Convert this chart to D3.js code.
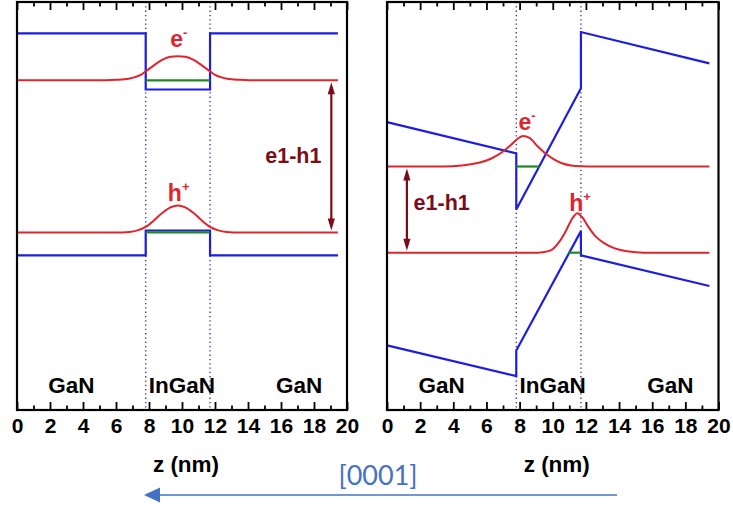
<!DOCTYPE html>
<html>
<head>
<meta charset="utf-8">
<script src="https://cdn.jsdelivr.net/npm/d3@7"></script>
<style>
  html, body { margin: 0; padding: 0; background: #ffffff; }
  svg { display: block; }
</style>
</head>
<body>
<svg id="chart" width="733" height="507"></svg>
<script>
// Band-edge profiles of a GaN / InGaN / GaN quantum well along z (nm).
// Energies in eV, measured from the GaN valence-band edge of the flat-band case.

const zMajorTicks = [0, 2, 4, 6, 8, 10, 12, 14, 16, 18, 20];
const zMinorTicks = [1, 3, 5, 7, 9, 11, 13, 15, 17, 19];
const wellEdges = [7.8, 11.7];
const regionNames = ["GaN", "InGaN", "GaN"];
const regionCenters = [3.3, 10.0, 17.1];

// Flat-band well (no polarization field)
const cbFlat = [[0, 3.40], [7.8, 3.40], [7.8, 2.54], [11.7, 2.54], [11.7, 3.40], [19.45, 3.40]];
const vbFlat = [[0, 0.00], [7.8, 0.00], [7.8, 0.38], [11.7, 0.38], [11.7, 0.00], [19.45, 0.00]];
const e1Flat = 2.68;
const h1Flat = 0.35;
const eLevelFlat = [[7.8, 2.68], [11.7, 2.68]];
const hLevelFlat = [[7.8, 0.35], [11.7, 0.35]];
// wavefunction profiles: [z, height above the level in eV]
const ePsiFlat = [[0, 0], [5.0, 0], [6.0, 0.008], [6.5, 0.015], [7.0, 0.038], [7.5, 0.084], [7.8, 0.138],
  [8.3, 0.230], [8.8, 0.314], [9.3, 0.360], [9.75, 0.368], [10.2, 0.360], [10.7, 0.314], [11.2, 0.230],
  [11.7, 0.138], [12.0, 0.084], [12.5, 0.038], [13.0, 0.015], [13.5, 0.008], [14.5, 0], [19.45, 0]];
const hPsiFlat = [[0, 0], [6.0, 0], [6.8, 0.008], [7.3, 0.031], [7.8, 0.084], [8.3, 0.184], [8.8, 0.299],
  [9.3, 0.383], [9.75, 0.414], [10.2, 0.383], [10.7, 0.299], [11.2, 0.184], [11.7, 0.084], [12.2, 0.031],
  [12.7, 0.008], [13.5, 0], [19.45, 0]];

// Polarized well (built-in field along [0001])
const cbPol = [[0, 2.04], [7.8, 1.56], [7.8, 0.70], [11.7, 2.56], [11.7, 3.42], [19.45, 2.94]];
const vbPol = [[0, -1.38], [7.8, -1.85], [7.8, -1.46], [11.7, 0.37], [11.7, 0.00], [19.45, -0.47]];
const e1Pol = 1.36;
const h1Pol = 0.04;
const eLevelPol = [[7.8, 1.36], [9.18, 1.36]];
const hLevelPol = [[10.96, 0.04], [11.7, 0.04]];
const ePsiPol = [[0, 0], [3.5, 0], [4.5, 0.015], [5.6, 0.061], [6.3, 0.123], [7.0, 0.230], [7.5, 0.337],
  [7.9, 0.429], [8.2, 0.467], [8.6, 0.437], [9.1, 0.306], [9.6, 0.191], [10.1, 0.107], [10.6, 0.046],
  [11.1, 0.015], [11.7, 0.003], [12.5, 0], [19.45, 0]];
const hPsiPol = [[0, 0], [8.8, 0], [9.4, 0.008], [9.9, 0.038], [10.4, 0.169], [10.8, 0.337], [11.1, 0.490],
  [11.48, 0.605], [11.8, 0.536], [12.1, 0.414], [12.6, 0.245], [13.1, 0.146], [13.7, 0.069], [14.3, 0.028],
  [15.0, 0.008], [16.0, 0], [19.45, 0]];

const COL = {
  band: "#1d1de0",
  psi: "#e0242c",
  level: "#1f8a1f",
  gap: "#7a0d18",
  edge: "#2a2aa0",
  dir: "#4472c4",
  ink: "#000000"
};

const svg = d3.select("#chart");
const y = d3.scaleLinear().domain([-2.37, 3.88]).range([410, 2]);

const panels = [
  {
    range: [17, 347],
    cb: cbFlat, vb: vbFlat, e1: e1Flat, h1: h1Flat,
    eLevel: eLevelFlat, hLevel: hLevelFlat, ePsi: ePsiFlat, hPsi: hPsiFlat,
    eLabel: [9.8, 3.19], hLabel: [9.8, 0.83],
    gapArrowZ: 19.05, gapLabel: [16.75, 1.41]
  },
  {
    range: [387, 718.5],
    cb: cbPol, vb: vbPol, e1: e1Pol, h1: h1Pol,
    eLevel: eLevelPol, hLevel: hLevelPol, ePsi: ePsiPol, hPsi: hPsiPol,
    eLabel: [8.45, 1.915], hLabel: [11.65, 0.674],
    gapArrowZ: 1.2, gapLabel: [3.3, 0.69]
  }
];

panels.forEach(p => {
  const x = d3.scaleLinear().domain([0, 20]).range(p.range);
  const g = svg.append("g");
  const [y0, y1] = y.range();

  // well boundaries
  wellEdges.forEach(z => {
    g.append("line")
      .attr("x1", x(z)).attr("x2", x(z))
      .attr("y1", y1).attr("y2", y0)
      .attr("stroke", COL.edge).attr("stroke-width", 1.3)
      .attr("stroke-dasharray", "1.3,3");
  });

  const band = d3.line().x(d => x(d[0])).y(d => y(d[1]));

  // band edges
  [p.cb, p.vb].forEach(b => {
    g.append("path").attr("d", band(b))
      .attr("fill", "none").attr("stroke", COL.band)
      .attr("stroke-width", 2.2).attr("stroke-linejoin", "miter");
  });

  // confined levels
  [p.eLevel, p.hLevel].forEach(l => {
    g.append("path").attr("d", band(l))
      .attr("fill", "none").attr("stroke", COL.level).attr("stroke-width", 2.2);
  });

  // wavefunctions drawn on their levels
  const psi = (level) => d3.line()
    .x(d => x(d[0])).y(d => y(level + d[1]))
    .curve(d3.curveMonotoneX);
  g.append("path").attr("d", psi(p.e1)(p.ePsi))
    .attr("fill", "none").attr("stroke", COL.psi).attr("stroke-width", 2);
  g.append("path").attr("d", psi(p.h1)(p.hPsi))
    .attr("fill", "none").attr("stroke", COL.psi).attr("stroke-width", 2);

  // carrier labels
  const carrier = (pos, base, sup) => {
    const t = g.append("text")
      .attr("x", x(pos[0])).attr("y", y(pos[1]))
      .attr("text-anchor", "middle")
      .attr("font-family", "'Liberation Sans', Arial, sans-serif")
      .attr("font-weight", "bold").attr("font-size", 23)
      .attr("fill", COL.psi);
    t.append("tspan").text(base);
    t.append("tspan").attr("font-size", 13).attr("dy", -10).text(sup);
  };
  carrier(p.eLabel, "e", "-");
  carrier(p.hLabel, "h", "+");

  // e1-h1 transition arrow
  const ax = x(p.gapArrowZ);
  const top = y(p.e1) + 2, bot = y(p.h1) - 2;
  const headL = 12, headW = 3.6;
  g.append("line").attr("x1", ax).attr("x2", ax)
    .attr("y1", top + headL - 2).attr("y2", bot - headL + 2)
    .attr("stroke", COL.gap).attr("stroke-width", 2.2);
  g.append("path")
    .attr("d", `M${ax},${top} L${ax - headW},${top + headL} L${ax + headW},${top + headL} Z`)
    .attr("fill", COL.gap);
  g.append("path")
    .attr("d", `M${ax},${bot} L${ax - headW},${bot - headL} L${ax + headW},${bot - headL} Z`)
    .attr("fill", COL.gap);
  g.append("text")
    .attr("x", x(p.gapLabel[0])).attr("y", y(p.gapLabel[1]))
    .attr("text-anchor", "middle")
    .attr("font-family", "'Liberation Sans', Arial, sans-serif")
    .attr("font-weight", "bold").attr("font-size", 21.5)
    .attr("fill", COL.gap).text("e1-h1");

  // layer names
  regionNames.forEach((name, i) => {
    g.append("text")
      .attr("x", x(regionCenters[i])).attr("y", 393)
      .attr("text-anchor", "middle")
      .attr("font-family", "'Liberation Sans', Arial, sans-serif")
      .attr("font-weight", "bold").attr("font-size", 22.5)
      .attr("fill", COL.ink).text(name);
  });

  // axes: inward ticks on bottom and top
  const bottomMajor = g.append("g").attr("transform", `translate(0,${y0})`)
    .call(d3.axisBottom(x).tickValues(zMajorTicks).tickSize(-8).tickPadding(8)
      .tickFormat(d3.format("d")));
  const bottomMinor = g.append("g").attr("transform", `translate(0,${y0})`)
    .call(d3.axisBottom(x).tickValues(zMinorTicks).tickSize(-4.5).tickFormat(""));
  const topMajor = g.append("g").attr("transform", `translate(0,${y1})`)
    .call(d3.axisTop(x).tickValues(zMajorTicks).tickSize(-8).tickFormat(""));
  const topMinor = g.append("g").attr("transform", `translate(0,${y1})`)
    .call(d3.axisTop(x).tickValues(zMinorTicks).tickSize(-4.5).tickFormat(""));
  [bottomMajor, bottomMinor, topMajor, topMinor].forEach(a => {
    a.select(".domain").remove();
    a.selectAll(".tick line").attr("stroke", COL.ink).attr("stroke-width", 1.8);
  });
  bottomMajor.selectAll(".tick text")
    .attr("font-family", "'Liberation Sans', Arial, sans-serif")
    .attr("font-weight", "bold").attr("font-size", 21).attr("fill", COL.ink);

  // frame
  g.append("rect")
    .attr("x", p.range[0]).attr("y", y1)
    .attr("width", p.range[1] - p.range[0]).attr("height", y0 - y1)
    .attr("fill", "none").attr("stroke", COL.ink).attr("stroke-width", 2.2);

  // axis title
  g.append("text")
    .attr("x", (p.range[0] + p.range[1]) / 2 + 4).attr("y", 472)
    .attr("text-anchor", "middle")
    .attr("font-family", "'Liberation Sans', Arial, sans-serif")
    .attr("font-weight", "bold").attr("font-size", 22.5)
    .attr("fill", COL.ink).text("z (nm)");
});

// growth direction
svg.append("line")
  .attr("x1", 617).attr("x2", 158).attr("y1", 495).attr("y2", 495)
  .attr("stroke", COL.dir).attr("stroke-width", 1.6);
svg.append("path")
  .attr("d", "M144,495 L160,487.5 L160,502.5 Z")
  .attr("fill", COL.dir);
svg.append("text")
  .attr("x", 378).attr("y", 485)
  .attr("text-anchor", "middle")
  .attr("font-family", "Lato, 'Open Sans', sans-serif")
  .attr("font-size", 27).attr("fill", COL.dir)
  .text("[0001]");
</script>
</body>
</html>
